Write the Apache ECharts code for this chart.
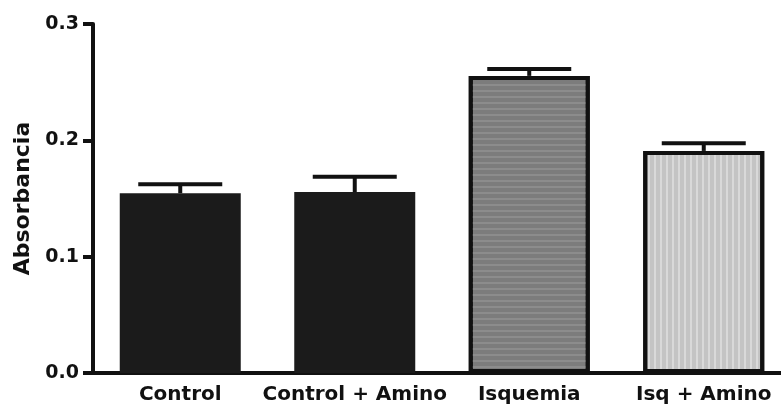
<!DOCTYPE html>
<html>
<head>
<meta charset="utf-8">
<script src="https://cdn.jsdelivr.net/npm/echarts@6/dist/echarts.min.js"></script>
<style>
html,body{margin:0;padding:0;background:#fff;}
#chart{width:781px;height:407px;}
</style>
</head>
<body>
<div id="chart"></div>
<script>
const categories = ['Control', 'Control + Amino', 'Isquemia', 'Isq + Amino'];
const means = [0.1545, 0.1556, 0.2554, 0.1909];
const errTops = [0.1622, 0.1688, 0.2614, 0.1975];
const yTicks = ['0.0', '0.1', '0.2', '0.3'];

const FONT = '"DejaVu Sans", Arial, sans-serif';
const chart = echarts.init(document.getElementById('chart'), null, {renderer: 'canvas'});

const barStyles = [
  {color: '#1b1b1b', borderColor: '#1b1b1b', borderWidth: 0},
  {color: '#1b1b1b', borderColor: '#1b1b1b', borderWidth: 0},
  {color: '#7c7c7c', borderColor: '#111', borderWidth: 4,
   decal: {symbol: 'rect', symbolSize: 1, color: 'rgba(155,155,155,0.5)', dashArrayX: [1, 0], dashArrayY: [2, 4], rotation: 0}},
  {color: '#c4c4c4', borderColor: '#111', borderWidth: 4,
   decal: {symbol: 'rect', symbolSize: 1, color: 'rgba(222,222,222,0.8)', dashArrayX: [2, 4], dashArrayY: [1, 0], rotation: 0}}
];

const option = {
  backgroundColor: '#fff',
  animation: false,
  grid: {left: 93, top: 24, width: 698, height: 349, containLabel: false, outerBoundsMode: 'none'},
  xAxis: {
    type: 'category',
    data: categories,
    axisLine: {lineStyle: {color: '#111', width: 4}},
    axisTick: {alignWithLabel: true, length: 7, lineStyle: {color: '#111', width: 4}},
    axisLabel: {color: '#111', fontFamily: FONT, fontWeight: 'bold', fontSize: 20, margin: 12, interval: 0},
    splitLine: {show: false}
  },
  yAxis: {
    type: 'value',
    min: 0, max: 0.3, interval: 0.1,
    name: 'Absorbancia',
    nameLocation: 'middle',
    nameGap: 58,
    nameTextStyle: {color: '#111', fontFamily: FONT, fontWeight: 'bold', fontSize: 22},
    axisLine: {show: true, lineStyle: {color: '#111', width: 4}},
    axisTick: {show: true, length: 10, lineStyle: {color: '#111', width: 4}},
    axisLabel: {color: '#111', fontFamily: FONT, fontWeight: 'bold', fontSize: 19, margin: 14,
      formatter: function (v) { return yTicks[Math.round(v * 10)]; }},
    splitLine: {show: false}
  },
  series: [
    {
      type: 'bar',
      barWidth: 121,
      data: means.map((v, i) => ({value: v, itemStyle: barStyles[i]})),
      z: 2
    },
    {
      type: 'custom',
      z: 3,
      data: categories.map((c, i) => [i, means[i], errTops[i]]),
      renderItem: function (params, api) {
        const base = api.coord([api.value(0), api.value(1)]);
        const top = api.coord([api.value(0), api.value(2)]);
        const half = 42;
        return {
          type: 'group',
          children: [
            {type: 'line', shape: {x1: base[0], y1: base[1], x2: top[0], y2: top[1]},
             style: {stroke: '#111', lineWidth: 4}},
            {type: 'line', shape: {x1: top[0] - half, y1: top[1], x2: top[0] + half, y2: top[1]},
             style: {stroke: '#111', lineWidth: 4}}
          ]
        };
      }
    }
  ]
};
chart.setOption(option);
</script>
</body>
</html>
